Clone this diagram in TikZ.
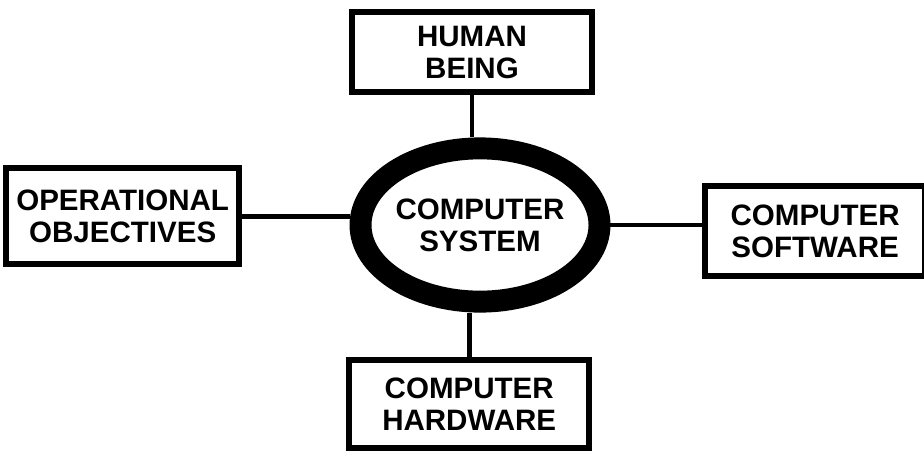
\documentclass[tikz,border=0pt]{standalone}
\usepackage{fontspec}
\setmainfont{Liberation Sans}
\usepackage{tikz}
\usetikzlibrary{positioning,shapes.geometric}

\begin{document}
\begin{tikzpicture}[
    x=0.025cm, y=-0.025cm,
    every node/.style={font=\fontsize{21}{23}\selectfont\bfseries},
    box/.style={rectangle, draw, line width=4.3pt, align=center, inner sep=0pt},
    core/.style={ellipse, draw, line width=15.6pt, align=center, inner sep=0pt,
                 minimum width=5.75cm, minimum height=3.83cm},
    link/.style={line width=3.5pt},
]
\useasboundingbox (0,0) rectangle (924,454);

% Nodes
\node[core] (sys) at (480,225) {COMPUTER\\SYSTEM};
\node[box, minimum width=6cm, minimum height=2cm,
      above=1.05cm of sys, xshift=-0.2cm] (human) {HUMAN\\BEING};
\node[box, minimum width=5.83cm, minimum height=2.4cm,
      left=2.68cm of sys, yshift=0.22cm] (ops) {OPERATIONAL\\OBJECTIVES};
\node[box, minimum width=5.5cm, minimum height=2.25cm,
      right=2.29cm of sys, yshift=-0.15cm] (soft) {COMPUTER\\SOFTWARE};
\node[box, minimum width=6cm, minimum height=2.2cm,
      below=1.12cm of sys, xshift=-0.27cm] (hard) {COMPUTER\\HARDWARE};

% Links
\draw[link] (human.south) -- (human.south |- sys.north);
\draw[link] (ops.east) -- (ops.east -| sys.west);
\draw[link] (sys.east) -- (soft.west |- sys.east);
\draw[link] (hard.north) -- (hard.north |- sys.south);
\end{tikzpicture}
\end{document}
